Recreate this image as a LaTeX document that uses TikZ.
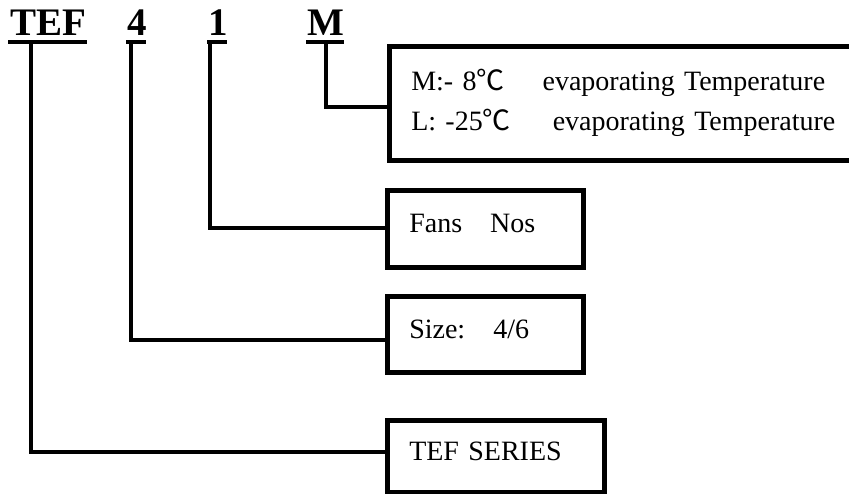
\documentclass[tikz,border=0pt]{standalone}
\usepackage{fontspec}
\setmainfont{Liberation Serif}
\newfontfamily\cjkfont{Noto Sans CJK SC}
\newcommand\degCel{\smash{\cjkfont ℃}}
\newcommand\tightlines{\lineskiplimit=-100pt\relax}
\begin{document}
\begin{tikzpicture}[x=1pt,y=-1pt,
  hdr/.style={inner sep=0pt, anchor=base west, font=\fontsize{39}{40}\selectfont\bfseries},
  ul/.style={line width=4pt},
  conn/.style={line width=4.5pt, line cap=rect, line join=miter},
  boxnode/.style={draw, line width=4.5pt, anchor=north west, align=left,
    inner xsep=22pt, inner ysep=0pt, text depth=10pt,
    font=\fontsize{28}{24}\selectfont}]
\useasboundingbox (0,0) rectangle (849,493);
\clip (0,0) rectangle (849,493);

% header letters
\node[hdr] (tef) at (10,35) {TEF};
\node[hdr] (four) at (127,35) {4};
\node[hdr] (one) at (208,35) {1};
\node[hdr] (em) at (307,35) {M};

% underlines
\draw[ul] (8,42) -- (87,42);
\draw[ul] (126,42) -- (146,42);
\draw[ul] (207,42) -- (227,42);
\draw[ul] (306,42) -- (344,42);

% boxes
\node[boxnode, text width=426pt, minimum height=114pt, text height=20pt, text depth=46pt,
  font=\fontsize{28}{40}\selectfont] (mbox) at (387,44)
  {\tightlines M:- 8\degCel\hspace{38pt}evaporating Temperature\\
   L: -25\degCel\hspace{42pt}evaporating Temperature};
\node[boxnode, text width=152pt, minimum height=77pt] (fans) at (385,188) {Fans\quad Nos};
\node[boxnode, text width=152pt, minimum height=76pt] (size) at (385,294) {Size:\quad 4/6};
\node[boxnode, text width=173pt, minimum height=72pt] (series) at (385,418) {TEF SERIES};

% connector start points
\coordinate (sT) at (31,44);
\coordinate (s4) at (131,44);
\coordinate (s1) at (210,44);
\coordinate (sM) at (326,44);

\draw[conn] (sT) |- (series.west |- 0,452);
\draw[conn] (s4) |- (size.west |- 0,340);
\draw[conn] (s1) |- (fans.west |- 0,228);
\draw[conn] (sM) |- (mbox.west |- 0,107);
\end{tikzpicture}
\end{document}
